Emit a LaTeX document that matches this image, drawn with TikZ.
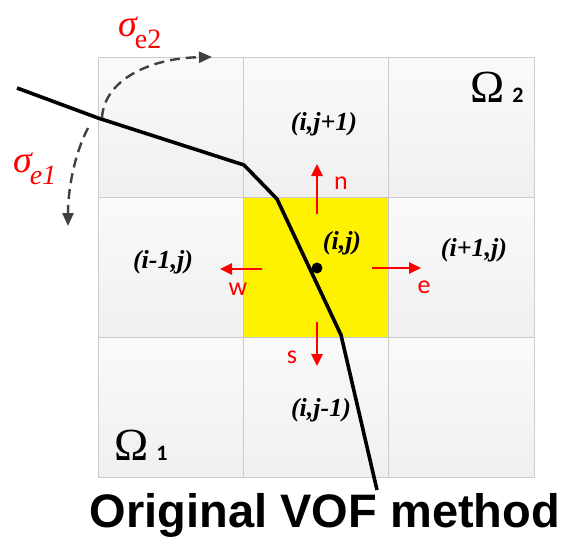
\documentclass[tikz,border=0pt]{standalone}
\usepackage{fontspec}
\setmainfont{Liberation Serif}
\newfontfamily\arialfont{Liberation Sans}
\newfontfamily\calfont{Carlito}
\usetikzlibrary{arrows.meta}
\begin{document}
\begin{tikzpicture}[x=1pt,y=-1pt,
  cell/.style={draw=gray!40,line width=0.8pt,top color=white!98!black,bottom color=white!94!black},
  center/.style={draw=gray!45,line width=0.8pt,fill=yellow},
  iface/.style={line width=3.6pt,line join=round,black},
  flux/.style={red,line width=2.6pt,-{Triangle[length=12pt,width=11pt]}},
  fluxlbl/.style={red,font=\calfont\fontsize{26}{28}\selectfont,inner sep=0pt},
  idx/.style={font=\bfseries\itshape\fontsize{26}{28}\selectfont,inner sep=0pt},
  sig/.style={red,inner sep=0pt},
  dasharc/.style={draw=black!75,line width=2.4pt,dash pattern=on 10pt off 6pt,-{Triangle[length=13pt,width=11pt]}},
  omega/.style={inner sep=0pt}]
\useasboundingbox (0,0) rectangle (564,538);
\fill[white] (0,0) rectangle (564,538);
% grid cells
\foreach \c/\xa/\xb in {0/98/243,1/243/388,2/388/534}{
  \foreach \r/\ya/\yb in {0/57/197,1/197/337,2/337/477}{
    \path[cell] (\xa,\ya) rectangle (\xb,\yb);
  }
}
\path[center] (243,197) rectangle (388,337);
% interface
\coordinate (p0) at (17,88);
\coordinate (p1) at (98,118);
\coordinate (p2) at (244,165);
\coordinate (p3) at (277,199);
\coordinate (p4) at (341,335);
\coordinate (p5) at (377,490);
\draw[iface] (p0) -- (p1) -- (p2) -- (p3) -- (p4) -- (p5);
% cell centre dot
\node[circle,fill=black,inner sep=0pt,minimum size=11pt] (dot) at (317,268) {};
% flux arrows
\coordinate (nA) at (317,214); \coordinate (nB) at (317,164);
\coordinate (wA) at (262,269); \coordinate (wB) at (220,269);
\coordinate (eA) at (372,268); \coordinate (eB) at (421,268);
\coordinate (sA) at (317,322); \coordinate (sB) at (317,366);
\draw[flux] (nA) -- (nB);
\draw[flux] (wA) -- (wB);
\draw[flux] (eA) -- (eB);
\draw[flux] (sA) -- (sB);
\node[fluxlbl] (nl) at (341,183) {n};
\node[fluxlbl] (wl) at (238,289) {w};
\node[fluxlbl] (el) at (424,287) {e};
\node[fluxlbl] (sl) at (292,357) {s};
% index labels
\node[idx] (ijp) at (324,124) {(i,j+1)};
\node[idx] (imj) at (163,262) {(i-1,j)};
\node[idx] (ipj) at (474,250) {(i+1,j)};
\node[idx] (ij) at (342,243) {(i,j)};
\node[idx] (ijm) at (321,410) {(i,j-1)};
% domains
\node[omega,anchor=base west] (om2) at (470,102) {\fontsize{46}{48}\selectfont Ω\hspace{8pt}{\calfont\bfseries\fontsize{22}{24}\selectfont 2}};
\node[omega,anchor=base west] (om1) at (114,460) {\fontsize{46}{48}\selectfont Ω\hspace{8pt}{\calfont\bfseries\fontsize{22}{24}\selectfont 1}};
% surface tension arrows
\coordinate (a0) at (102,118);
\coordinate (a1) at (212,57);
\coordinate (b0) at (88,128);
\coordinate (b1) at (68,226);
\draw[dasharc] (a0) .. controls (104,80) and (150,58) .. (a1);
\draw[dasharc] (b0) .. controls (74,155) and (68,190) .. (b1);
\node[sig,anchor=base west] (s2) at (118,36) {\fontsize{38}{40}\selectfont\itshape σ\kern-2pt\raisebox{-12pt}{\fontsize{28}{30}\selectfont\upshape e2}};
\node[sig,anchor=base west] (s1) at (13,172) {\fontsize{38}{40}\selectfont\itshape σ\kern-2pt\raisebox{-12pt}{\fontsize{28}{30}\selectfont e1}};
% title
\node[inner sep=0pt,anchor=base] (title) at (325,527) {\arialfont\bfseries\fontsize{47}{50}\selectfont Original VOF method};
\end{tikzpicture}
\end{document}
